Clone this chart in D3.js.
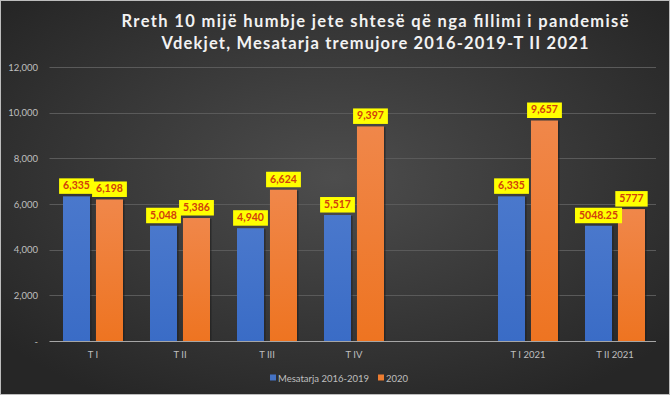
<!DOCTYPE html>
<html>
<head>
<meta charset="utf-8">
<script src="https://cdn.jsdelivr.net/npm/d3@7"></script>
<style>
  body { margin: 0; background: #2a2a2a; }
  svg { display: block; }
</style>
</head>
<body>
<div class="container"></div>
<script>
// data
var categories = ["T I", "T II", "T III", "T IV", "", "T I 2021", "T II 2021"];
var seriesNames = ["Mesatarja 2016-2019", "2020"];
var avgValues = [6335, 5048, 4940, 5517, null, 6335, 5048.25];
var y2020Values = [6198, 5386, 6624, 9397, null, 9657, 5777];
var avgLabels = ["6,335", "5,048", "4,940", "5,517", "", "6,335", "5048.25"];
var y2020Labels = ["6,198", "5,386", "6,624", "9,397", "", "9,657", "5777"];
var yTicks = [0, 2000, 4000, 6000, 8000, 10000, 12000];
var titleLines = ["Rreth 10 mijë humbje  jete  shtesë  që  nga  fillimi  i  pandemisë",
                  "Vdekjet,  Mesatarja  tremujore  2016-2019-T  II  2021"];

var w = 670, h = 395;
var colors = ["#4472c4", "#ed7d31"];

var svg = d3.select(".container")
  .append("svg")
  .attr("width", w)
  .attr("height", h);

var defs = svg.append("defs");
var bg = defs.append("radialGradient").attr("id", "bg")
  .attr("cx", "50%").attr("cy", "45%").attr("r", "65%");
bg.append("stop").attr("offset", "0%").attr("stop-color", "#4d4d4d");
bg.append("stop").attr("offset", "100%").attr("stop-color", "#262626");

var gBlue = defs.append("linearGradient").attr("id", "gBlue")
  .attr("x1", 0).attr("y1", 0).attr("x2", 0).attr("y2", 1);
gBlue.append("stop").attr("offset", "0%").attr("stop-color", "#4a78cc");
gBlue.append("stop").attr("offset", "100%").attr("stop-color", "#3a6cc6");
var gOr = defs.append("linearGradient").attr("id", "gOr")
  .attr("x1", 0).attr("y1", 0).attr("x2", 0).attr("y2", 1);
gOr.append("stop").attr("offset", "0%").attr("stop-color", "#f0874a");
gOr.append("stop").attr("offset", "100%").attr("stop-color", "#ee7421");
var fills = ["url(#gBlue)", "url(#gOr)"];

svg.append("rect")
  .attr("x", 0.5).attr("y", 0.5)
  .attr("width", w - 1).attr("height", h - 1)
  .attr("fill", "url(#bg)")
  .attr("stroke", "#bdbdbd")
  .attr("stroke-width", 1);

// title
svg.selectAll(".title")
  .data(titleLines)
  .enter()
  .append("text")
  .attr("class", "title")
  .attr("x", 375)
  .attr("y", function (d, i) { return 27 + i * 22; })
  .attr("text-anchor", "middle")
  .attr("textLength", function (d, i) { return i == 0 ? 507 : 427; })
  .attr("lengthAdjust", "spacing")
  .attr("fill", "#f2f2f2")
  .attr("font-family", "Lato, 'Open Sans', sans-serif")
  .attr("font-weight", "bold")
  .attr("font-size", "16.5px")
  .text(function (d) { return d; });

// scales
var xScale = d3.scaleBand()
  .domain(d3.range(categories.length))
  .range([49.5, 658.5]);
var x1 = d3.scaleBand()
  .domain([0, 1])
  .range([-30, 30])
  .paddingInner(0.18);
var yScale = d3.scaleLinear()
  .domain([0, 12000])
  .range([341, 67]);

// grid
svg.append("g")
  .attr("class", "grid")
  .selectAll("line")
  .data(yTicks.slice(1))
  .enter()
  .append("line")
  .attr("x1", 49.5).attr("x2", 656)
  .attr("y1", function (d) { return Math.round(yScale(d)) + 0.5; })
  .attr("y2", function (d) { return Math.round(yScale(d)) + 0.5; })
  .attr("stroke", "#5a5a5a")
  .attr("stroke-width", 1);

// y axis
var yAxis = d3.axisLeft(yScale)
  .tickValues(yTicks)
  .tickSize(0)
  .tickPadding(0)
  .tickFormat(function (d) { return d == 0 ? "-" : d3.format(",")(d); });
svg.append("g")
  .attr("class", "yaxis")
  .attr("transform", "translate(38,0)")
  .call(yAxis);
svg.select(".yaxis .domain").remove();
svg.selectAll(".yaxis text")
  .attr("fill", "#bfbfbf")
  .attr("font-family", "Lato, sans-serif")
  .attr("font-size", "9.5px");

// bars
var rows = categories.map(function (c, i) {
  return [
    { i: i, s: 0, v: avgValues[i], lab: avgLabels[i] },
    { i: i, s: 1, v: y2020Values[i], lab: y2020Labels[i] }
  ];
});
var groups = svg.selectAll(".grp")
  .data(rows)
  .enter()
  .append("g")
  .attr("class", "grp")
  .attr("transform", function (d, i) {
    return "translate(" + (xScale(i) + xScale.bandwidth() / 2) + ",0)";
  });

var items = groups.selectAll(".bar")
  .data(function (d) { return d.filter(function (e) { return e.v != null; }); })
  .enter();

items.append("rect")
  .attr("class", "shadow")
  .attr("x", function (d) { return x1(d.s) + 1.5; })
  .attr("y", function (d) { return yScale(d.v) + 1; })
  .attr("width", x1.bandwidth())
  .attr("height", function (d) { return 341 - yScale(d.v) - 1; })
  .attr("fill", "#1e1e1e")
  .attr("opacity", 0.6);

items.append("rect")
  .attr("class", "bar")
  .attr("x", function (d) { return x1(d.s); })
  .attr("y", function (d) { return yScale(d.v); })
  .attr("width", x1.bandwidth())
  .attr("height", function (d) { return 341 - yScale(d.v); })
  .attr("fill", function (d) { return fills[d.s]; });

// x axis line
svg.append("line")
  .attr("x1", 49.5).attr("x2", 656)
  .attr("y1", 341.5).attr("y2", 341.5)
  .attr("stroke", "#a6a6a6")
  .attr("stroke-width", 1);

// data labels
var labs = svg.selectAll(".grp").selectAll(".lab")
  .data(function (d) { return d.filter(function (e) { return e.v != null; }); })
  .enter()
  .append("g")
  .attr("class", "lab");
labs.append("rect").attr("fill", "#ffff00");
labs.append("text")
  .attr("x", function (d) { return x1(d.s) + x1.bandwidth() / 2; })
  .attr("y", function (d) { return yScale(d.v) - 7; })
  .attr("text-anchor", "middle")
  .attr("fill", "#d2400c")
  .attr("font-family", "Lato, sans-serif")
  .attr("font-weight", "bold")
  .attr("font-size", "10.5px")
  .text(function (d) { return d.lab; });
labs.each(function (d) {
  var t = d3.select(this).select("text");
  var tw = t.node().getComputedTextLength();
  d3.select(this).select("rect")
    .attr("x", x1(d.s) + x1.bandwidth() / 2 - tw / 2 - 4)
    .attr("y", yScale(d.v) - 18)
    .attr("width", tw + 8)
    .attr("height", 15.5);
});

// x labels
var xAxis = d3.axisBottom(xScale)
  .tickSize(0)
  .tickPadding(0)
  .tickFormat(function (i) { return categories[i]; });
svg.append("g")
  .attr("class", "xaxis")
  .attr("transform", "translate(0,351)")
  .call(xAxis);
svg.select(".xaxis .domain").remove();
svg.selectAll(".xaxis text")
  .attr("fill", "#bfbfbf")
  .attr("font-family", "Lato, sans-serif")
  .attr("font-size", "9.5px");

// legend
var legX = [270, 378];
var leg = svg.selectAll(".leg")
  .data(seriesNames)
  .enter()
  .append("g")
  .attr("class", "leg")
  .attr("transform", function (d, i) { return "translate(" + legX[i] + ",378)"; });
leg.append("rect")
  .attr("x", 0).attr("y", -3.5)
  .attr("width", 6).attr("height", 6)
  .attr("fill", function (d, i) { return colors[i]; });
leg.append("text")
  .attr("x", 8)
  .attr("y", 3.5)
  .attr("fill", "#bfbfbf")
  .attr("font-family", "Lato, sans-serif")
  .attr("font-size", "9.5px")
  .text(function (d) { return d; });
</script>
</body>
</html>
